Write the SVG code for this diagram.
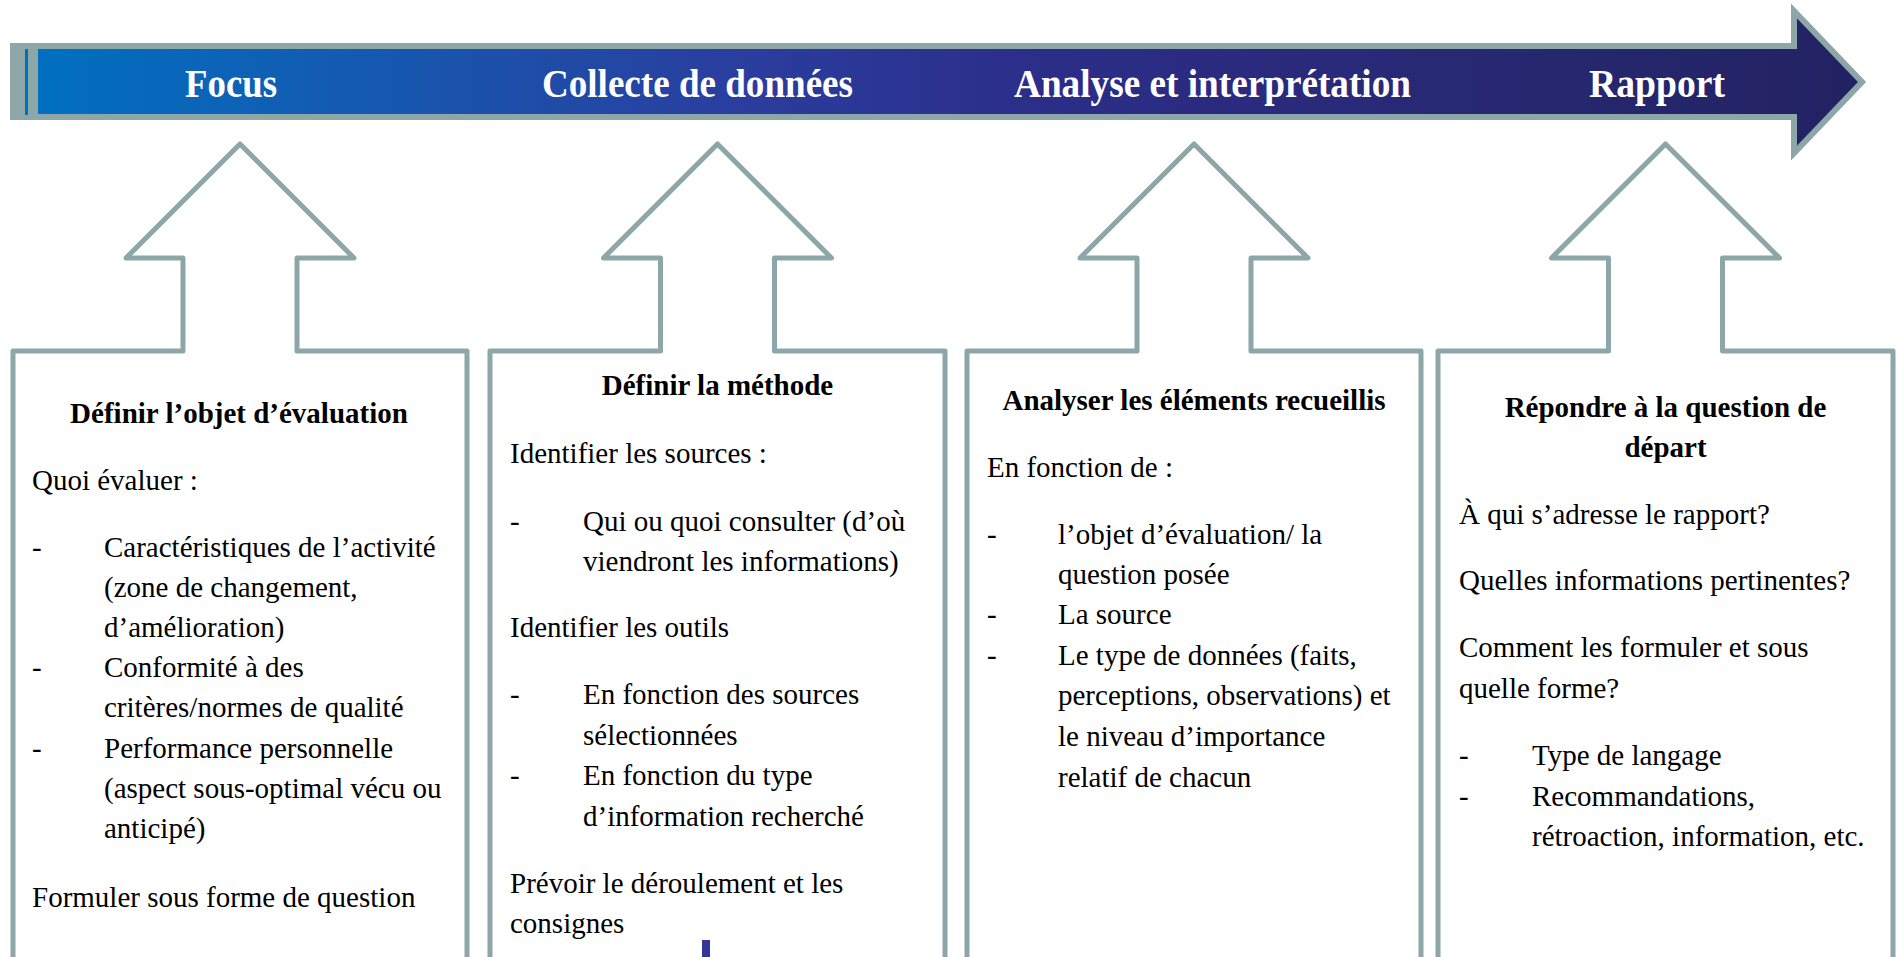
<svg xmlns="http://www.w3.org/2000/svg" width="1898" height="957" viewBox="0 0 1898 957">
<defs>
<linearGradient id="bannerGrad" gradientUnits="userSpaceOnUse" x1="38" y1="0" x2="1862" y2="0">
<stop offset="0" stop-color="#0070C0"/>
<stop offset="0.18" stop-color="#1559B0"/>
<stop offset="0.38" stop-color="#2A3E9F"/>
<stop offset="0.55" stop-color="#2C2D88"/>
<stop offset="0.8" stop-color="#272871"/>
<stop offset="1" stop-color="#222262"/>
</linearGradient>
<style>
.frame{fill:#FFFFFF;stroke:#8DA6A8;stroke-width:5;stroke-linejoin:round}
.band{fill:url(#bannerGrad);stroke:#8DA6A8;stroke-width:6;stroke-linejoin:miter}
.stage{font-family:"Liberation Serif","Times New Roman",serif;font-weight:bold;font-size:41px;fill:#FFFFFF;text-anchor:middle}
.title{font-family:"Liberation Serif","Times New Roman",serif;font-weight:bold;font-size:29px;fill:#000000;text-anchor:middle}
.body{font-family:"Liberation Serif","Times New Roman",serif;font-size:29px;fill:#000000}
</style>
</defs>
<rect width="1898" height="957" fill="#FFFFFF"/>

<g id="banner">
<path class="band" d="M 35 46 L 1794 46 L 1794 11 L 1862 82 L 1794 153 L 1794 117 L 35 117 Z"/>
<rect x="10" y="43" width="28" height="77" fill="#8DA6A8"/>
<rect x="25" y="49" width="3" height="66" fill="#0070C0"/>
<text class="stage" x="231" y="97" textLength="92" lengthAdjust="spacingAndGlyphs">Focus</text>
<text class="stage" x="697.5" y="97" textLength="311" lengthAdjust="spacingAndGlyphs">Collecte de données</text>
<text class="stage" x="1212.5" y="97" textLength="397" lengthAdjust="spacingAndGlyphs">Analyse et interprétation</text>
<text class="stage" x="1657" y="97" textLength="136" lengthAdjust="spacingAndGlyphs">Rapport</text>
</g>

<g id="connectors"></g>

<g id="box-focus">
<path class="frame" d="M 13 975 L 13 351 L 183 351 L 183 258 L 126 258 L 240 144 L 354 258 L 297 258 L 297 351 L 467 351 L 467 975"/>
<text class="title" x="239" y="423">Définir l’objet d’évaluation</text>
<text class="body" x="32" y="490">Quoi évaluer :</text>
<text class="body" x="32" y="557">-</text>
<text class="body" x="104" y="557">Caractéristiques de l’activité</text>
<text class="body" x="104" y="597">(zone de changement,</text>
<text class="body" x="104" y="637">d’amélioration)</text>
<text class="body" x="32" y="677">-</text>
<text class="body" x="104" y="677">Conformité à des</text>
<text class="body" x="104" y="717">critères/normes de qualité</text>
<text class="body" x="32" y="758">-</text>
<text class="body" x="104" y="758">Performance personnelle</text>
<text class="body" x="104" y="798">(aspect sous-optimal vécu ou</text>
<text class="body" x="104" y="838">anticipé)</text>
<text class="body" x="32" y="907">Formuler sous forme de question</text>
</g>

<g id="box-collecte">
<path class="frame" d="M 490 975 L 490 351 L 660.5 351 L 660.5 258 L 603.5 258 L 717.5 144 L 831.5 258 L 774.5 258 L 774.5 351 L 945 351 L 945 975"/>
<text class="title" x="717.5" y="395">Définir la méthode</text>
<text class="body" x="510" y="463">Identifier les sources :</text>
<text class="body" x="510" y="531">-</text>
<text class="body" x="583" y="531">Qui ou quoi consulter (d’où</text>
<text class="body" x="583" y="571">viendront les informations)</text>
<text class="body" x="510" y="637">Identifier les outils</text>
<text class="body" x="510" y="704">-</text>
<text class="body" x="583" y="704">En fonction des sources</text>
<text class="body" x="583" y="745">sélectionnées</text>
<text class="body" x="510" y="785">-</text>
<text class="body" x="583" y="785">En fonction du type</text>
<text class="body" x="583" y="826">d’information recherché</text>
<text class="body" x="510" y="893">Prévoir le déroulement et les</text>
<text class="body" x="510" y="933">consignes</text>
<rect x="702" y="940" width="8" height="17" fill="#35369A"/>
</g>

<g id="box-analyse">
<path class="frame" d="M 967 975 L 967 351 L 1137 351 L 1137 258 L 1080 258 L 1194 144 L 1308 258 L 1251 258 L 1251 351 L 1421 351 L 1421 975"/>
<text class="title" x="1194" y="410">Analyser les éléments recueillis</text>
<text class="body" x="987" y="477">En fonction de :</text>
<text class="body" x="987" y="544">-</text>
<text class="body" x="1058" y="544">l’objet d’évaluation/ la</text>
<text class="body" x="1058" y="584">question posée</text>
<text class="body" x="987" y="624">-</text>
<text class="body" x="1058" y="624">La source</text>
<text class="body" x="987" y="665">-</text>
<text class="body" x="1058" y="665">Le type de données (faits,</text>
<text class="body" x="1058" y="705">perceptions, observations) et</text>
<text class="body" x="1058" y="746">le niveau d’importance</text>
<text class="body" x="1058" y="787">relatif de chacun</text>
</g>

<g id="box-rapport">
<path class="frame" d="M 1438 975 L 1438 351 L 1608.5 351 L 1608.5 258 L 1551.5 258 L 1665.5 144 L 1779.5 258 L 1722.5 258 L 1722.5 351 L 1893 351 L 1893 975"/>
<text class="title" x="1665.5" y="417">Répondre à la question de</text>
<text class="title" x="1665.5" y="457">départ</text>
<text class="body" x="1459" y="524">À qui s’adresse le rapport?</text>
<text class="body" x="1459" y="590">Quelles informations pertinentes?</text>
<text class="body" x="1459" y="657">Comment les formuler et sous</text>
<text class="body" x="1459" y="698">quelle forme?</text>
<text class="body" x="1459" y="765">-</text>
<text class="body" x="1532" y="765">Type de langage</text>
<text class="body" x="1459" y="806">-</text>
<text class="body" x="1532" y="806">Recommandations,</text>
<text class="body" x="1532" y="846">rétroaction, information, etc.</text>
</g>
</svg>
